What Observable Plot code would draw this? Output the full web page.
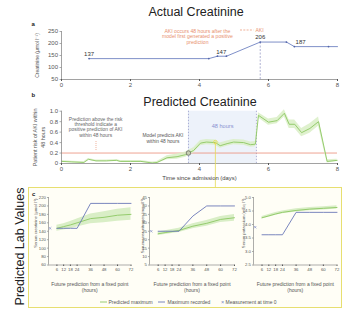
<!DOCTYPE html>
<html>
<head>
<meta charset="utf-8">
<script src="https://cdn.jsdelivr.net/npm/d3@7"></script>
<script src="https://cdn.jsdelivr.net/npm/@observablehq/plot@0.6"></script>
<style>
html,body{margin:0;padding:0;background:#fff;}
#root{position:relative;width:344px;height:312px;overflow:hidden;font-family:"Liberation Sans",Arial,Helvetica,sans-serif;}
</style>
</head>
<body>
<div id="root"></div>
<script>
const FONT = '"Liberation Sans", Arial, Helvetica, sans-serif';

// ---------- Panel a: actual creatinine ----------
const aDays      = [0.8, 4.27, 4.52, 4.78, 5.76, 6.52, 6.75, 7.74, 8.0];
const aCreat     = [137, 137, 147, 147, 206, 206, 187, 187, 187];
const aMeasDays  = [0.8, 4.27, 4.52, 4.78, 5.76, 6.52, 6.75, 7.74];
const aMeasVals  = [137, 137, 147, 147, 206, 206, 187, 187];
const aLabelDays = [0.8, 4.63, 5.76, 6.93];
const aLabelVals = [137, 147, 206, 187];
const aAkiDay = 5.76;
const aTicksX = [0, 2, 4, 6, 8];
const aTicksY = [50, 100, 150, 200, 250];
const aNote = "AKI occurs 48 hours after the\nmodel first generated a positive\nprediction";

// ---------- Panel b: predicted risk ----------
const riskDays   = [0, 0.3, 0.65, 0.78, 1.0, 1.3, 1.6, 1.7, 2.0, 2.3, 2.63, 2.77, 3.06, 3.35, 3.6, 3.68, 3.83, 4.03, 4.2, 4.46, 4.6, 4.8, 4.99, 5.28, 5.48, 5.62, 5.71, 6.0, 6.25, 6.46, 6.6, 6.76, 6.96, 7.2, 7.45, 7.7, 7.99];
const riskValues = [0.04, 0.03, 0.02, 0.08, 0.05, 0.05, 0.06, 0.04, 0.04, 0.04, 0.01, 0.02, 0.11, 0.13, 0.17, 0.2, 0.25, 0.39, 0.41, 0.40, 0.34, 0.38, 0.41, 0.40, 0.36, 0.37, 0.92, 0.79, 0.82, 0.96, 0.75, 0.75, 0.59, 0.67, 0.80, 0.04, 0.06];
const riskSpread = [0.015, 0.015, 0.015, 0.015, 0.015, 0.015, 0.015, 0.015, 0.015, 0.015, 0.02, 0.02, 0.04, 0.05, 0.05, 0.05, 0.05, 0.05, 0.05, 0.05, 0.05, 0.05, 0.05, 0.05, 0.05, 0.05, 0.05, 0.06, 0.06, 0.07, 0.08, 0.08, 0.08, 0.09, 0.09, 0.03, 0.02];
const bWindow = [3.68, 5.65];
const bThreshold = 0.2;
const bFocus = {day: 4.46, risk: 0.41, linkTo: -0.46};
const bModel = {day: 3.68, risk: 0.2};
const bTicksX = [0, 2, 4, 6, 8];
const bTicksY = [0, 0.2, 0.4, 0.6, 0.8, 1.0];
const bNoteLeft  = {day: 0.99, risk: 0.70, text: "Prediction above the risk\nthreshold indicate a\npositive prediction of AKI\nwithin 48 hours"};
const bArrow     = {day: 1.0, from: 0.42, to: 0.23};
const bNoteModel = {day: 2.94, risk: 0.48, text: "Model predicts AKI\nwithin 48 hours"};
const bNoteWin   = {day: 4.67, risk: 0.71, text: "48 hours"};

// ---------- Panel c: predicted lab values ----------
const cHours = [6, 12, 18, 24, 36, 48, 60, 72];
const cXLabel = "Future prediction from a fixed point\n(hours)";
const creatPred = [147, 151, 155, 160, 170, 173, 178, 180];
const creatLo   = [140, 143, 146, 150, 158, 160, 164, 166];
const creatHi   = [154, 158, 163, 169, 181, 186, 192, 196];
const creatRec  = [147, 147, 147, 147, 206, 206, 206, 206];
const creatT0 = 147;
const ureaPred = [23.5, 24.2, 24.8, 25.5, 28, 29.7, 32, 33];
const ureaLo   = [22.5, 23.1, 23.6, 24.2, 26.5, 28.0, 30.2, 31.0];
const ureaHi   = [24.5, 25.3, 26.0, 26.8, 29.5, 31.4, 33.8, 35.0];
const ureaRec  = [25, 25, 25, 25, 34, 40, 40, 40];
const ureaT0 = 25;
const potPred = [4.25, 4.32, 4.39, 4.45, 4.52, 4.57, 4.60, 4.63];
const potLo   = [4.20, 4.27, 4.34, 4.40, 4.46, 4.51, 4.54, 4.57];
const potHi   = [4.30, 4.37, 4.44, 4.50, 4.58, 4.63, 4.66, 4.69];
const potRec  = [3.62, 3.62, 3.62, 3.62, 4.45, 4.45, 4.45, 4.45];
const potT0 = 3.9;

const root = document.getElementById("root");
function place(el, left, top) {
  el.style.position = "absolute";
  el.style.left = left + "px";
  el.style.top = top + "px";
  root.appendChild(el);
}
const st = (fs) => ({fontFamily: FONT, fontSize: fs, color: "#555", background: "transparent", overflow: "visible"});

const GREEN = "#8cc762", BAND = "#d9eec6", BLUE = "#6b78b8", ORANGE = "#e8906e", YELLOW = "#e6da55", AXIS = "#8a8a8a";

// left-pointing tick symbol for the y axes
const tickSym = {draw(ctx, size) { const l = Math.sqrt(size / Math.PI); ctx.moveTo(-l, 0); ctx.lineTo(0, 0); }};
function yAxis(ticks, xAt, fmt, fs, len, pad) {
  return [
    Plot.dot(ticks, {x: () => xAt, y: d => d, symbol: tickSym, r: len, stroke: AXIS, strokeWidth: 0.7, fill: "none"}),
    Plot.text(ticks, {x: () => xAt, y: d => d, text: fmt, textAnchor: "end", dx: -(len + pad), fontSize: fs, fill: "#555"})
  ];
}

// panel c box (background)
const box = document.createElement("div");
box.style.cssText = "width:314px;height:121px;box-sizing:border-box;border:1px solid #e7df70;background:#fffef6;";
place(box, 28, 187);

// ---------- Overlay (underneath): titles, panel letters, legends ----------
const ov = d3.create("svg").attr("width", 344).attr("height", 312)
  .style("font-family", FONT).style("background", "none");
const T = (x, y, s, size, fill, extra = {}) => {
  const t = ov.append("text").attr("x", x).attr("y", y).attr("font-size", size).attr("fill", fill).text(s);
  for (const k in extra) t.attr(k, extra[k]);
  return t;
};
T(196, 15.8, "Actual Creatinine", 12.5, "#222", {"text-anchor": "middle"});
T(200, 105.5, "Predicted Creatinine", 12.5, "#222", {"text-anchor": "middle"});
T(31.5, 25.5, "a", 6, "#222", {"font-weight": "bold"});
T(31.5, 97, "b", 6, "#222", {"font-weight": "bold"});
T(32, 195.5, "c", 6, "#222", {"font-weight": "bold"});
T(23.5, 246.5, "Predicted Lab Values", 12.5, "#222", {"text-anchor": "middle", transform: "rotate(-90,23.5,246.5)"});
ov.append("line").attr("x1", 240).attr("x2", 253.5).attr("y1", 30).attr("y2", 30)
  .attr("stroke", ORANGE).attr("stroke-width", 0.7).attr("stroke-dasharray", "2,1.3");
T(255.5, 31.8, "AKI", 5, ORANGE);
ov.append("line").attr("x1", 100).attr("x2", 107).attr("y1", 302).attr("y2", 302).attr("stroke", GREEN).attr("stroke-width", 0.9);
T(108.5, 303.7, "Predicted maximum", 5, "#555");
ov.append("line").attr("x1", 158).attr("x2", 165).attr("y1", 302).attr("y2", 302).attr("stroke", BLUE).attr("stroke-width", 0.9);
T(167.5, 303.7, "Maximum recorded", 5, "#555");
T(222.5, 303.9, "×", 5.5, "#7583c4", {"text-anchor": "middle"});
T(225.5, 303.7, "Measurement at time 0", 5, "#555");
place(ov.node(), 0, 0);

// ---------- Panel a plot ----------
const aRows = aDays.map((d, i) => ({day: d, v: aCreat[i]}));
const aMeas = aMeasDays.map((d, i) => ({day: d, v: aMeasVals[i]}));
const aLabs = aLabelDays.map((d, i) => ({day: d, v: aLabelVals[i]}));
const plotA = Plot.plot({
  width: 344, height: 95,
  marginLeft: 61, marginRight: 7, marginTop: 31, marginBottom: 16,
  x: {domain: [0, 8]}, y: {domain: [50, 250], axis: null},
  style: st("6px"),
  marks: [
    Plot.ruleX([0], {stroke: AXIS, strokeWidth: 0.8}),
    Plot.ruleY([50], {stroke: AXIS, strokeWidth: 0.8}),
    ...yAxis(aTicksY, 0, d => String(d), 6, 2, 1.5),
    Plot.axisX({ticks: aTicksX, tickSize: 2, tickPadding: 1.5, label: null}),
    Plot.ruleX([aAkiDay], {y1: 50, y2: 206, stroke: "#8c8fc0", strokeDasharray: "2,1.5", strokeWidth: 0.7}),
    Plot.line(aRows, {x: "day", y: "v", stroke: "#6f82c2", strokeWidth: 0.9}),
    Plot.dot(aMeas, {x: "day", y: "v", r: 0.9, fill: "#5466aa"}),
    Plot.text(aLabs, {x: "day", y: "v", text: d => String(d.v), dy: -4.5, fontSize: 6, fill: "#333"}),
    Plot.text([aNote], {x: () => 3.94, y: () => 229, text: d => d, fontSize: 5.1, lineHeight: 1.15, fill: ORANGE}),
    Plot.text(["Creatinine (μmol l⁻¹)"], {frameAnchor: "left", text: d => d, rotate: -90, textAnchor: "middle", dx: -24, fontSize: 5, fill: "#555"})
  ]
});
place(plotA, 0, 0);

// ---------- Panel b plot ----------
const riskRows = riskDays.map((d, i) => ({day: d, risk: riskValues[i], lo: Math.max(0, riskValues[i] - riskSpread[i]), hi: riskValues[i] + riskSpread[i]}));
const plotB = Plot.plot({
  width: 344, height: 90,
  marginLeft: 61, marginRight: 7, marginTop: 10.7, marginBottom: 27,
  x: {domain: [0, 8]}, y: {domain: [0, 1], axis: null},
  style: st("6px"),
  marks: [
    Plot.rect([bWindow], {x1: d => d[0], x2: d => d[1], fill: "#edf2fa"}),
    Plot.ruleX(bWindow, {stroke: "#8c90c4", strokeDasharray: "1.5,1.5", strokeWidth: 0.7}),
    Plot.ruleY([bThreshold], {stroke: "#ea8b77", strokeWidth: 0.8}),
    Plot.areaY(riskRows, {x: "day", y1: "lo", y2: "hi", fill: BAND, fillOpacity: 0.85}),
    Plot.line(riskRows, {x: "day", y: "risk", stroke: GREEN, strokeWidth: 0.9}),
    Plot.ruleX([0], {stroke: AXIS, strokeWidth: 0.8}),
    Plot.ruleY([0], {stroke: AXIS, strokeWidth: 0.8}),
    ...yAxis(bTicksY, 0, d => d === 0 ? "0" : d3.format(".1f")(d), 6, 2, 1.5),
    Plot.axisX({ticks: bTicksX, tickSize: 2, tickPadding: 1.5, label: null}),
    Plot.dot([bModel], {x: "day", y: "risk", r: 2.3, stroke: "#444", strokeWidth: 0.6, fill: "#c6ceb2"}),
    Plot.ruleX([bFocus], {x: "day", y1: "risk", y2: "linkTo", stroke: YELLOW, strokeWidth: 0.8}),
    Plot.dot([bFocus], {x: "day", y: "risk", r: 1.8, stroke: YELLOW, strokeWidth: 0.8, fill: "none"}),
    Plot.text([bNoteWin], {x: "day", y: "risk", text: "text", fontSize: 5.6, fill: "#8a90d0"}),
    Plot.text([bNoteLeft], {x: "day", y: "risk", text: "text", fontSize: 4.9, lineHeight: 1.1, fill: "#666"}),
    Plot.ruleX([bArrow], {x: "day", y1: "from", y2: "to", stroke: ORANGE, strokeDasharray: "1,1", strokeWidth: 0.7}),
    Plot.text([bNoteModel], {x: "day", y: "risk", text: "text", fontSize: 4.9, lineHeight: 1.1, fill: "#555"}),
    Plot.text(["Time since admission (days)"], {frameAnchor: "bottom", text: d => d, textAnchor: "middle", dy: 16, fontSize: 5.9, fill: "#444"}),
    Plot.text(["Patient risk of AKI within\n48 hours"], {frameAnchor: "left", text: d => d, rotate: -90, textAnchor: "middle", lineAnchor: "middle", dx: -23, fontSize: 5.4, lineHeight: 1.4, fill: "#555"})
  ]
});
place(plotB, 0, 100);

// ---------- Panel c subplots ----------
function labPlot(cfg) {
  const mL = 22, mR = 8;
  const w = mL + (cfg.right - cfg.left) + mR;
  const rows = cHours.map((h, i) => ({h, pred: cfg.pred[i], lo: cfg.lo[i], hi: cfg.hi[i], rec: cfg.rec[i]}));
  const p = Plot.plot({
    width: w, height: 105,
    marginLeft: mL, marginRight: mR, marginTop: 7, marginBottom: 30.5,
    x: {domain: [-1.5, 72]}, y: {domain: cfg.domain, axis: null},
    style: st("4.3px"),
    marks: [
      Plot.areaY(rows, {x: "h", y1: "lo", y2: "hi", fill: BAND}),
      Plot.line(rows, {x: "h", y: "pred", stroke: GREEN, strokeWidth: 0.9}),
      Plot.line(rows, {x: "h", y: "rec", stroke: BLUE, strokeWidth: 0.9}),
      Plot.dot([{h: 0, v: cfg.t0}], {x: "h", y: "v", symbol: "times", r: 1.2, stroke: "#7583c4", strokeWidth: 0.6}),
      Plot.ruleX([-1.5], {stroke: AXIS, strokeWidth: 0.7}),
      Plot.ruleY([cfg.domain[0]], {stroke: AXIS, strokeWidth: 0.7}),
      ...yAxis(cfg.ticks, -1.5, cfg.fmt, 4.3, 1.5, 1),
      Plot.axisX({ticks: cHours, tickSize: 1.5, tickPadding: 1.5, label: null}),
      Plot.text([cfg.label], {frameAnchor: "top-left", text: d => d, rotate: -90, textAnchor: "end", dx: cfg.labelDx, dy: 1, fontSize: 4.2, fill: "#555"}),
      Plot.text([cXLabel], {frameAnchor: "bottom", text: d => d, textAnchor: "middle", dy: 22, lineAnchor: "middle", fontSize: 5, lineHeight: 1.2, fill: "#555"})
    ]
  });
  place(p, cfg.left - mL, 190);
}
labPlot({left: 47.5, right: 130, domain: [60, 220], ticks: [60, 80, 100, 120, 140, 160, 180, 200, 220], fmt: d3.format("d"),
  pred: creatPred, lo: creatLo, hi: creatHi, rec: creatRec, t0: creatT0, label: "Serum creatinine (μmol l⁻¹)", labelDx: -14.5});
labPlot({left: 148.5, right: 233.5, domain: [5, 45], ticks: [5, 10, 15, 20, 25, 30, 35, 40, 45], fmt: d3.format("d"),
  pred: ureaPred, lo: ureaLo, hi: ureaHi, rec: ureaRec, t0: ureaT0, label: "Serum urea nitrogen (mg dl⁻¹)", labelDx: -8.5});
labPlot({left: 253, right: 336.5, domain: [2.5, 5.0], ticks: [2.5, 3.0, 3.5, 4.0, 4.5, 5.0], fmt: d3.format(".1f"),
  pred: potPred, lo: potLo, hi: potHi, rec: potRec, t0: potT0, label: "Serum potassium (mEq l⁻¹)", labelDx: -11.5});
</script>
</body>
</html>
